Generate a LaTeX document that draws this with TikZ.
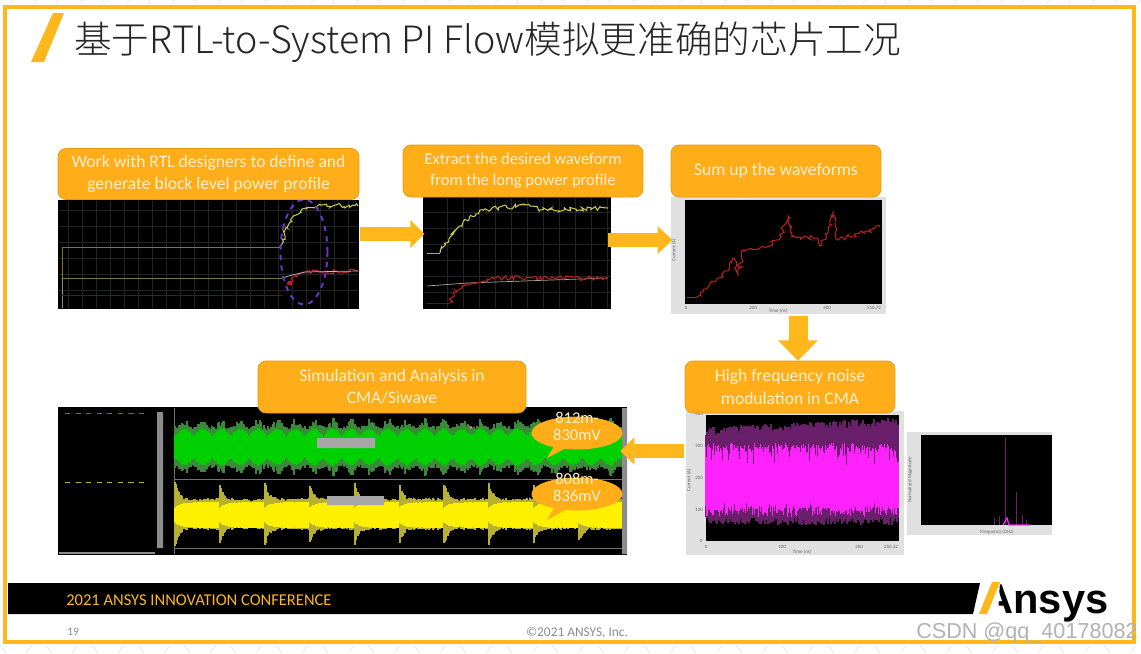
\documentclass[tikz,border=0pt]{standalone}
\usepackage{fontspec}
\setmainfont{Carlito}
\newfontfamily\cjk[UprightFont={* Light}]{Noto Sans CJK SC}
\newfontfamily\logofont{Liberation Sans}
\usetikzlibrary{arrows.meta,shapes.geometric,shapes.callouts,decorations.pathmorphing}

\definecolor{ansysorange}{HTML}{FFB71B}
\definecolor{boxorange}{HTML}{FFAE1A}
\definecolor{boxedge}{HTML}{E39A12}
\definecolor{boxtext}{HTML}{FFF0D0}
\definecolor{brightpink}{HTML}{FF22FF}
\definecolor{darkpink}{HTML}{6A1F6A}
\definecolor{tracegreen}{HTML}{00D000}
\definecolor{envgreen}{HTML}{3A8A3A}
\definecolor{envyellow}{HTML}{B8B030}
\definecolor{traceyellow}{HTML}{FFF000}
\definecolor{traceolive}{HTML}{C8C850}
\definecolor{levelolive}{HTML}{77773F}
\definecolor{tracered}{HTML}{B82020}

\newcommand{\bubtext}[2]{\makebox[0pt]{\smash{\begin{tabular}[c]{@{}c@{}}#1\\#2\end{tabular}}}}

\tikzset{
  stepbox/.style={draw=boxedge, fill=boxorange, rounded corners=4.5pt, text=boxtext,
    align=center, font=\fontsize{10}{12.6}\selectfont, inner sep=0pt},
  flowarrow/.style={draw=ansysorange, line width=#1},
  flowarrow/.default=8pt,
  frameplot/.style={fill=black!12, inner sep=0pt},
  wave/.style={line width=0.6pt, decorate, decoration={random steps,segment length=1.3pt,amplitude=1.3pt}},
  tick/.style={font=\fontsize{2.8}{3}\selectfont, text=black!60, inner sep=0pt},
  bubble/.style={ellipse callout, fill=boxorange, text=boxtext, inner sep=0pt,
    minimum width=1.82cm, minimum height=0.66cm, font=\fontsize{9.4}{9.7}\selectfont},
  griddim/.style={draw=white!14!black, line width=0.25pt},
}

\begin{document}
\begin{tikzpicture}[x=0.02cm, y=-0.02cm]
  \useasboundingbox (0,0) rectangle (1141,653);
  \pgfmathsetseed{19}

  % Slide background
  \fill[white] (0,0) rectangle (1141,653);
  \foreach \i in {0,46,...,1140}{
    \draw[black!12, line width=0.3pt] (\i,645) -- (\i+6,653) (\i+26,653) -- (\i+32,645);
    \draw[black!10, line width=0.3pt] (\i+10,0) -- (\i+13,4) (\i+34,4) -- (\i+37,0);
  }
  \draw[ansysorange, line width=2.3pt] (5,7) rectangle (1134,642);

  % Title
  \fill[ansysorange] (53,13) -- (64,13) -- (44,62) -- (31,62) -- cycle;
  \node[anchor=west, inner sep=0pt, text=black!85] (title) at (74,42)
    {\cjk\fontsize{21.42}{24}\selectfont 基于RTL-to-System PI Flow模拟更准确的芯片工况};

  % Block level profile
  \node[fill=black, minimum width=6.02cm, minimum height=2.18cm, inner sep=0pt] (plotA) at (208.5,254.5) {};
  \foreach \i in {68,82,...,350}{\draw[griddim] (\i,201) -- (\i,308);}
  \foreach \i in {210,226,...,305}{\draw[griddim] (59,\i) -- (358,\i);}
  \draw[levelolive, line width=0.5pt] (62,278) -- (62,247) -- (280,247);
  \draw[levelolive, line width=0.5pt] (62,278) -- (282,278);
  \draw[black!45, line width=0.5pt] (62,278) -- (62,308);
  \draw[red!55!black, line width=0.5pt] (62,295) -- (282,295);
  \draw[traceolive, wave] (280,247) -- (287,228) -- (296,215) -- (307,208) -- (322,205) -- (358,206);
  \draw[tracered, wave] (288,285) -- (294,276) -- (305,272) -- (358,271);
  \draw[black!25, line width=0.4pt] (282,278) -- (292,275) -- (305,272) -- (358,271);
  \fill[tracered] (290,283) circle (2.5);
  \node[ellipse, draw=violet!55!blue!80!white, dashed, line width=1.1pt, minimum width=0.94cm,
    minimum height=2.1cm, inner sep=0pt] (mark) at (304,252) {};
  \node[stepbox, minimum width=6.02cm, minimum height=1.02cm] (boxA) at (208.5,174)
    {Work with RTL designers to define and\\generate block level power profile};

  % Extracted waveform
  \node[fill=black, minimum width=3.76cm, minimum height=2.24cm, inner sep=0pt] (plotB) at (517,253) {};
  \foreach \i in {447,463,...,610}{\draw[griddim] (\i,198) -- (\i,308);}
  \foreach \i in {212,228,...,305}{\draw[griddim] (424,\i) -- (610,\i);}
  \draw[traceolive, wave] (440,253) -- (450,237) -- (463,222) -- (480,210) -- (527,205) -- (540,210) -- (608,208);
  \draw[black!35, line width=0.5pt] (427,253) -- (440,253);
  \draw[black!35, line width=0.4pt] (427,286) -- (467,283) -- (608,278);
  \draw[red!55!black, line width=0.5pt] (427,303) -- (450,303);
  \draw[tracered, wave] (450,303) -- (455,290) -- (467,283) -- (500,278) -- (608,278);
  \node[stepbox, minimum width=4.8cm, minimum height=1.04cm, font=\fontsize{9.4}{12}\selectfont] (boxB) at (523,171)
    {Extract the desired waveform\\from the long power profile};

  % Summed waveform
  \node[frameplot, minimum width=4.3cm, minimum height=2.34cm] (plotC) at (778.5,255.5) {};
  \fill[black] (685,200) rectangle (882,304);
  \draw[tracered, line width=0.5pt] (687,297) -- (697,297);
  \draw[tracered, wave] (697,297) -- (710,283) -- (723,277) -- (733,258) -- (738,275) -- (743,250) -- (767,247) -- (780,238) -- (788,215) -- (792,237) -- (817,238) -- (822,245) -- (833,213) -- (838,240) -- (880,227);
  \node[tick] (c0) at (686,308) {0};
  \node[tick] (c1) at (753,308) {200};
  \node[tick] (c2) at (827,308) {400};
  \node[tick] (c3) at (874,308) {510.72};
  \node[tick] (c4) at (778,311) {Time (ns)};
  \node[tick, rotate=90] (c5) at (674,250) {Current (A)};
  \node[stepbox, minimum width=4.2cm, minimum height=1.04cm] (boxC) at (776,171) {Sum up the waveforms};

  % Noise modulation
  \node[frameplot, minimum width=4.36cm, minimum height=2.88cm] (plotD) at (795,483) {};
  \fill[black] (706,415) rectangle (899,541);
  \foreach \i in {706,707,...,898}{
    \pgfmathsetmacro{\top}{436-(\i-706)*0.05-rnd*9}
    \pgfmathsetmacro{\bot}{516+rnd*9}
    \draw[darkpink, line width=0.6pt] (\i,\top) -- (\i,\bot);
    \pgfmathsetmacro{\top}{449-rnd*7+rnd*rnd*rnd*30}
    \pgfmathsetmacro{\bot}{507+rnd*10-rnd*rnd*rnd*12}
    \draw[brightpink, line width=0.6pt] (\i,\top) -- (\i,\bot);
  }
  \node[tick] (d0) at (699,414) {400};
  \node[tick] (d1) at (699,446) {300};
  \node[tick] (d2) at (699,478) {200};
  \node[tick] (d3) at (699,510) {100};
  \node[tick] (d4) at (701,541) {0};
  \node[tick] (d5) at (706,547) {0};
  \node[tick] (d6) at (782,547) {100};
  \node[tick] (d7) at (859,547) {200};
  \node[tick] (d8) at (891,547) {250.32};
  \node[tick] (d9) at (802,552) {Time (ns)};
  \node[tick, rotate=90] (d10) at (689,480) {Current (A)};
  \node[stepbox, minimum width=4.2cm, minimum height=1.04cm] (boxD) at (790,387)
    {High frequency noise\\modulation in CMA};

  % Spectrum
  \node[frameplot, minimum width=2.9cm, minimum height=2.06cm] (plotE) at (979.5,483.5) {};
  \fill[black] (921,435) rectangle (1052,525);
  \draw[darkpink, line width=0.5pt] (1005,437) -- (1005,525) (1016,492) -- (1016,525)
    (1022,515) -- (1022,525) (994,518) -- (994,525) (999,516) -- (999,525) (1026,520) -- (1026,525);
  \draw[brightpink, line width=0.7pt] (1003,525) -- (1007,518) -- (1009,525) -- (1030,525);
  \node[tick] (e0) at (997,532) {Frequency (GHz)};
  \node[tick, rotate=90] (e1) at (910,480) {Normalized Magnitude};

  % Simulation result
  \node[fill=black, minimum width=11.38cm, minimum height=2.96cm, inner sep=0pt] (plotF) at (342.5,481) {};
  \fill[black!45] (157,412) rectangle (163,548) (622,408) rectangle (627,554);
  \fill[black!45] (59,552) rectangle (155,554);
  \draw[black!55, line width=0.4pt] (174,408) -- (174,554) (175,479) -- (622,479) (175,548) -- (622,548);
  \draw[envgreen, line width=0.4pt, dashed] (65,413) -- (149,413);
  \draw[envyellow, line width=0.4pt, dashed] (65,482) -- (149,482);
  \foreach \i in {175,176,...,621}{
    \pgfmathsetmacro{\phs}{abs(cos(\i*9.73))}
    \pgfmathsetmacro{\amp}{15+(5+7*\phs^3)*(0.3+0.9*rnd)}
    \draw[envgreen, line width=0.6pt] (\i,447-\amp) -- (\i,447+\amp);
    \pgfmathsetmacro{\amp}{10+7*\phs+rnd*2}
    \draw[tracegreen, line width=0.6pt] (\i,447-\amp) -- (\i,447+\amp);
    \pgfmathsetmacro{\phs}{mod(\i-175,44.8)/44.8}
    \pgfmathsetmacro{\amp}{(15+18*exp(-\phs*12))*(0.85+0.2*rnd)}
    \draw[envyellow, line width=0.6pt] (\i,514-\amp) -- (\i,514+\amp);
    \pgfmathsetmacro{\amp}{12.5-6*exp(-\phs*8)+rnd*0.6}
    \draw[traceyellow, line width=0.6pt] (\i,515-\amp) -- (\i,515+\amp);
  }
  \fill[black!35] (317,438) rectangle (375,448) (327,496) rectangle (384,505);
  \fill[red!50!white] (471,427.5) circle (1.5);
  \node[stepbox, minimum width=5.36cm, minimum height=1.04cm] (boxE) at (392,387)
    {Simulation and Analysis in\\CMA/Siwave};
  \node[bubble, callout absolute pointer={(547,458)}] (noteA) at (577,433) {\bubtext{812m-}{830mV}};
  \node[bubble, callout absolute pointer={(547,520)}] (noteB) at (577,494) {\bubtext{808m-}{836mV}};

  % Flow arrows
  \coordinate (lineA) at (0,234);
  \coordinate (lineB) at (0,240);
  \coordinate (lineC) at (798,0);
  \coordinate (lineD) at (0,451);
  \draw[flowarrow, -{Triangle[length=8pt,width=15.5pt]}, shorten <=0.6pt, shorten >=-1pt]
    (plotA.east |- lineA) -- (plotB.west |- lineA);
  \draw[flowarrow, -{Triangle[length=8.5pt,width=15.5pt]}, shorten <=-1.7pt, shorten >=-1pt]
    (plotB.east |- lineB) -- (plotC.west |- lineB);
  \draw[flowarrow=10.8pt, -{Triangle[length=11.5pt,width=22pt]}, shorten <=1pt]
    (plotC.south -| lineC) -- (boxD.north -| lineC);
  \draw[flowarrow, -{Triangle[length=8pt,width=15pt]}, shorten <=1pt, shorten >=-4pt]
    (plotD.west |- lineD) -- (plotF.east |- lineD);

  % Footer
  \fill[black] (8,583) -- (980,583) -- (973,614) -- (8,614) -- cycle;
  \node[anchor=west, inner sep=0pt, text=ansysorange] (conf) at (66,600)
    {\fontsize{9.4}{11}\selectfont 2021 ANSYS INNOVATION CONFERENCE};
  \node[anchor=base west, inner sep=0pt] (logo) at (983,613)
    {\logofont\bfseries\fontsize{23.7}{26}\selectfont Ansys};
  \fill[white] (979,614) -- (992,581) -- (1000,581) -- (998,614) -- cycle;
  \fill[ansysorange] (992,582) -- (1000,582) -- (987,614) -- (979,614) -- cycle;
  \node[anchor=west, inner sep=0pt, text=black!45] (page) at (67,632) {\fontsize{6.5}{8}\selectfont 19};
  \node[anchor=center, inner sep=0pt, text=black!45] (copy) at (577,633)
    {\fontsize{7.6}{9}\selectfont ©2021 ANSYS, Inc.};
  \node[anchor=east, inner sep=0pt, text=black!30] (mark2) at (1138,633)
    {\logofont\fontsize{12.3}{14}\selectfont CSDN @qq\_40178082};
\end{tikzpicture}
\end{document}
